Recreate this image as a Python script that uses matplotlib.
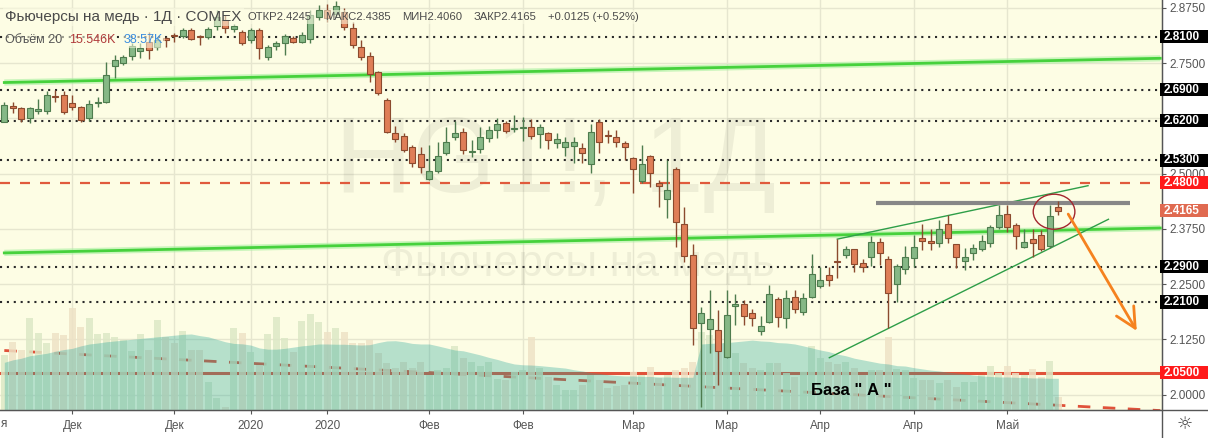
import matplotlib
matplotlib.use('Agg')
import matplotlib.pyplot as plt
from matplotlib.patches import Rectangle, Ellipse, FancyArrowPatch
from matplotlib.transforms import blended_transform_factory

# ---------------- data ----------------
opens = [2.618, 2.653, 2.648, 2.625, 2.643, 2.643, 2.674, 2.678, 2.661, 2.650,
         2.625, 2.661, 2.662, 2.744, 2.751, 2.766, 2.778, 2.799, 2.786, 2.807,
         2.812, 2.812, 2.825, 2.810, 2.809, 2.834, 2.848, 2.827, 2.821, 2.802,
         2.825, 2.763, 2.789, 2.795, 2.806, 2.799, 2.804, 2.855, 2.870, 2.861,
         2.866, 2.829, 2.787, 2.766, 2.729, 2.667, 2.591, 2.586, 2.561, 2.544,
         2.489, 2.505, 2.546, 2.582, 2.594, 2.549, 2.555, 2.580, 2.600, 2.614,
         2.601, 2.603, 2.605, 2.589, 2.591, 2.569, 2.561, 2.563, 2.558, 2.521,
         2.618, 2.588, 2.582, 2.569, 2.535, 2.484, 2.540, 2.478, 2.442, 2.510,
         2.386, 2.315, 2.162, 2.148, 2.146, 2.086, 2.200, 2.205, 2.184, 2.145,
         2.165, 2.216, 2.173, 2.220, 2.188, 2.220, 2.247, 2.270, 2.301, 2.315,
         2.329, 2.297, 2.311, 2.346, 2.306, 2.250, 2.284, 2.309, 2.354, 2.348,
         2.343, 2.386, 2.341, 2.303, 2.320, 2.330, 2.343, 2.379, 2.408, 2.384,
         2.335, 2.352, 2.361, 2.337, 2.4245]
highs = [2.663, 2.663, 2.650, 2.650, 2.668, 2.686, 2.689, 2.686, 2.678, 2.653,
         2.667, 2.673, 2.753, 2.769, 2.769, 2.796, 2.796, 2.821, 2.807, 2.810,
         2.818, 2.830, 2.830, 2.814, 2.832, 2.870, 2.859, 2.839, 2.825, 2.830,
         2.829, 2.791, 2.800, 2.816, 2.812, 2.821, 2.870, 2.882, 2.884, 2.891,
         2.875, 2.843, 2.802, 2.775, 2.733, 2.672, 2.608, 2.591, 2.565, 2.561,
         2.565, 2.572, 2.606, 2.620, 2.603, 2.576, 2.606, 2.608, 2.625, 2.620,
         2.633, 2.629, 2.623, 2.612, 2.595, 2.591, 2.584, 2.584, 2.569, 2.612,
         2.623, 2.599, 2.599, 2.575, 2.538, 2.565, 2.542, 2.486, 2.531, 2.516,
         2.425, 2.340, 2.199, 2.237, 2.192, 2.238, 2.227, 2.214, 2.193, 2.177,
         2.248, 2.222, 2.238, 2.237, 2.229, 2.318, 2.290, 2.290, 2.352, 2.336,
         2.330, 2.306, 2.359, 2.354, 2.314, 2.296, 2.336, 2.361, 2.386, 2.374,
         2.395, 2.407, 2.341, 2.331, 2.341, 2.361, 2.384, 2.429, 2.429, 2.388,
         2.374, 2.374, 2.373, 2.429, 2.4385]
lows = [2.616, 2.638, 2.618, 2.614, 2.635, 2.635, 2.663, 2.634, 2.644, 2.617,
        2.620, 2.652, 2.660, 2.717, 2.746, 2.757, 2.762, 2.759, 2.780, 2.787,
        2.799, 2.807, 2.802, 2.791, 2.805, 2.825, 2.818, 2.821, 2.791, 2.796,
        2.759, 2.757, 2.780, 2.769, 2.796, 2.796, 2.796, 2.848, 2.843, 2.855,
        2.825, 2.784, 2.757, 2.708, 2.678, 2.591, 2.572, 2.550, 2.516, 2.502,
        2.486, 2.501, 2.542, 2.576, 2.545, 2.538, 2.546, 2.572, 2.580, 2.591,
        2.595, 2.575, 2.578, 2.558, 2.555, 2.558, 2.540, 2.524, 2.524, 2.501,
        2.546, 2.569, 2.560, 2.531, 2.456, 2.478, 2.471, 2.425, 2.400, 2.335,
        2.301, 2.112, 1.973, 2.094, 2.022, 2.084, 2.158, 2.158, 2.155, 2.135,
        2.163, 2.154, 2.150, 2.184, 2.180, 2.218, 2.241, 2.246, 2.263, 2.309,
        2.278, 2.278, 2.291, 2.293, 2.150, 2.210, 2.273, 2.290, 2.327, 2.327,
        2.334, 2.344, 2.286, 2.282, 2.305, 2.324, 2.334, 2.374, 2.367, 2.329,
        2.331, 2.312, 2.324, 2.331, 2.406]
closes = [2.655, 2.648, 2.623, 2.648, 2.646, 2.678, 2.673, 2.640, 2.650, 2.621,
          2.658, 2.663, 2.723, 2.757, 2.763, 2.789, 2.784, 2.780, 2.802, 2.803,
          2.811, 2.825, 2.805, 2.809, 2.827, 2.855, 2.829, 2.834, 2.795, 2.825,
          2.784, 2.787, 2.795, 2.812, 2.799, 2.814, 2.859, 2.870, 2.852, 2.879,
          2.832, 2.791, 2.763, 2.725, 2.682, 2.595, 2.578, 2.554, 2.524, 2.516,
          2.506, 2.541, 2.572, 2.591, 2.554, 2.550, 2.582, 2.599, 2.612, 2.597,
          2.603, 2.605, 2.586, 2.606, 2.576, 2.578, 2.571, 2.571, 2.546, 2.594,
          2.571, 2.585, 2.571, 2.560, 2.510, 2.521, 2.501, 2.472, 2.463, 2.391,
          2.314, 2.150, 2.184, 2.171, 2.100, 2.180, 2.205, 2.177, 2.173, 2.155,
          2.227, 2.175, 2.218, 2.193, 2.218, 2.272, 2.260, 2.260, 2.300, 2.329,
          2.295, 2.290, 2.345, 2.320, 2.229, 2.291, 2.311, 2.335, 2.348, 2.344,
          2.374, 2.354, 2.311, 2.311, 2.331, 2.348, 2.379, 2.407, 2.379, 2.359,
          2.346, 2.344, 2.329, 2.404, 2.4165]
# volume, thousands of contracts
volumes = [67, 83, 73, 112, 94, 82, 94, 91, 124, 101,
           112, 92, 94, 89, 85, 72, 92, 73, 109, 89,
           82, 96, 73, 73, 34, 15, 4, 100, 94, 71,
           55, 92, 113, 88, 71, 108, 117, 107, 95, 100,
           95, 82, 82, 85, 69, 57, 51, 58, 51, 58,
           43, 49, 51, 78, 63, 58, 54, 58, 38, 36,
           46, 49, 89, 51, 40, 30, 24, 24, 30, 43,
           36, 27, 29, 30, 46, 43, 52, 39, 43, 49,
           51, 58, 95, 91, 82, 82, 69, 57, 51, 49,
           57, 57, 45, 40, 46, 78, 63, 58, 56, 58,
           51, 43, 49, 49, 89, 50, 49, 39, 36, 36,
           33, 36, 28, 34, 34, 43, 54, 45, 54, 45,
           43, 50, 40, 60, 15.546]
volume_ma = [58, 61, 63, 66, 67.5, 69, 71.5, 73.5, 75, 78,
             80.3, 81.5, 83, 84, 85, 86, 87, 88, 89, 90,
             91, 92, 92.5, 90.5, 89, 86, 83, 81, 80.5, 79,
             75.5, 74, 74, 75, 76.5, 78, 79, 80.3, 80.3, 80,
             80, 79.5, 79, 79.5, 82, 84, 84.3, 83, 81, 80.3,
             80.3, 78, 75.5, 73, 72, 69.5, 67, 64, 61.5, 58.5,
             56, 55, 54.7, 54, 53, 52, 51, 49, 47.5, 45.5,
             44.5, 43, 42, 41.4, 41.4, 40.8, 40.8, 40.2, 40.2, 39.8,
             39.8, 39.8, 80.3, 81, 81.5, 82, 83, 84, 85, 84,
             83.5, 82, 81.5, 80.3, 78, 75.5, 73, 71, 68, 66,
             63, 61, 59, 57, 56, 54, 53.5, 51.5, 50, 48.5,
             47.5, 46, 45, 44, 42.5, 41.4, 40.8, 40.2, 40.2, 39.8,
             39.5, 39, 39, 38.6, 38.57]

date_tick_pos = [8, 20, 29, 38, 50, 61, 74, 85, 96, 107, 118]
date_tick_labels = ['Дек', 'Дек', '2020', '2020', 'Фев', 'Фев', 'Мар', 'Мар', 'Апр', 'Апр', 'Май']
grid_levels = [2.0, 2.125, 2.25, 2.375, 2.5, 2.625, 2.75, 2.875]
price_ticks = [2.0, 2.125, 2.25, 2.375, 2.5, 2.75, 2.875]

dotted_levels = [2.81, 2.69, 2.62, 2.53, 2.29, 2.21]
red_dash_level = 2.48
red_solid_level = 2.05
last_price = 2.4165

# drawings (index, price)
green_line_upper = [(0, 2.7063), (136, 2.7611)]
green_line_lower = [(0, 2.3208), (136, 2.3772)]
wedge_upper = [(98, 2.352), (127.5, 2.4729)]
wedge_lower = [(97.06, 2.0837), (129.9, 2.3969)]
gray_level = [(102.6, 2.433), (132.4, 2.433)]
volume_trend = [(0, 2.1000), (136, 1.9641)]
circle_center = (123.5, 2.414)
arrow_pts = [(125.0, 2.414), (133.4, 2.139)]
base_label_pos = (99.7, 2.0084)

header_items = ['ОТКР2.4245', 'МАКС2.4385', 'МИН2.4060', 'ЗАКР2.4165', '+0.0125 (+0.52%)']

# ---------------- styling ----------------
BG = '#fdfde4'
UP_FILL, UP_EDGE = '#86b886', '#4e7c4e'
DN_FILL, DN_EDGE = '#df7e57', '#8b4a2e'
FONT = 'Liberation Sans'
plt.rcParams['font.family'] = [FONT, 'DejaVu Sans']

W, H = 1208, 438
PLOT_W, PLOT_H = 1162, 410
fig = plt.figure(figsize=(W / 100, H / 100), dpi=100, facecolor='white')
ax = fig.add_axes([0, (H - PLOT_H) / H, PLOT_W / W, PLOT_H / H])
ax.set_facecolor(BG)
ax.set_xlim(-0.506, 136.2)
ax.set_ylim(1.9654, 2.893)

n = len(opens)
idx = list(range(n))

# grid
for t in date_tick_pos:
    ax.axvline(t, color='#e6e6cf', lw=1, zorder=0)
for p in grid_levels:
    ax.axhline(p, color='#e6e6cf', lw=1, zorder=0)

# watermark
ax.text(0.478, 0.60, 'HG1!, 1Д', transform=ax.transAxes, fontsize=77, color='black', alpha=0.06,
        ha='center', va='center', zorder=0.5)
ax.text(0.497, 0.355, 'Фьючерсы на медь', transform=ax.transAxes, fontsize=32, color='black',
        alpha=0.06, ha='center', va='center', zorder=0.5)

# red lines under the volume overlay
ax.axhline(red_solid_level, color='#e0523a', lw=2.2, zorder=1)
ax.plot([p[0] for p in volume_trend], [p[1] for p in volume_trend], color='#e0523a', lw=2,
        ls=(0, (4.5, 4.5)), zorder=1)

# volume pane (twin axis)
vax = ax.twinx()
vax.set_ylim(0, PLOT_H / 0.822)
vax.set_xlim(ax.get_xlim())
vax.axis('off')
vcol = ['#dce8c6' if c >= o else '#eee2c6' for o, c in zip(opens, closes)]
vax.bar(idx, volumes, width=0.82, color=vcol, alpha=0.85, zorder=1)
vax.fill_between(idx, 0, volume_ma, color='#26a69a', alpha=0.33, lw=0, zorder=2)
vax.set_zorder(ax.get_zorder() + 1)
vax.patch.set_visible(False)

# overlay axis for drawings and candles
top = fig.add_axes(ax.get_position(), sharex=ax, sharey=ax)
top.patch.set_visible(False)
top.axis('off')
top.set_zorder(vax.get_zorder() + 1)

for lv in dotted_levels:
    top.axhline(lv, color='#2a2a2a', lw=1.5, ls=(0, (1, 2.3)), zorder=2)
top.axhline(red_dash_level, color='#e05a3c', lw=1.6, ls=(0, (4.5, 4.5)), zorder=2)

for seg in (green_line_upper, green_line_lower):
    xs, ys = [p[0] for p in seg], [p[1] for p in seg]
    top.plot(xs, ys, color='#a8f0a0', lw=4.5, alpha=0.6, zorder=2, solid_capstyle='butt')
    top.plot(xs, ys, color='#46d13c', lw=2.0, zorder=2.1)
for seg in (wedge_upper, wedge_lower):
    top.plot([p[0] for p in seg], [p[1] for p in seg], color='#2e9e48', lw=1, zorder=2.2)
top.plot([p[0] for p in gray_level], [p[1] for p in gray_level], color='#878787', lw=3,
         solid_capstyle='butt', zorder=2.2)

# candles
for i, (o, h_, l, c) in enumerate(zip(opens, highs, lows, closes)):
    up = c >= o
    fill, edge = (UP_FILL, UP_EDGE) if up else (DN_FILL, DN_EDGE)
    top.vlines(i, l, h_, color=edge, lw=1, zorder=3)
    bottom = min(o, c)
    height = max(abs(c - o), 0.0018)
    top.add_patch(Rectangle((i - 0.35, bottom), 0.7, height, fc=fill, ec=edge, lw=0.8, zorder=4))

top.add_patch(Ellipse(circle_center, 4.9, 0.0792, fill=False, ec='#a3262e', lw=1, zorder=5))
top.add_patch(FancyArrowPatch(arrow_pts[0], arrow_pts[1], arrowstyle='->,head_length=0.9,head_width=0.45',
                              mutation_scale=16, color='#f5821f', lw=2, zorder=5))
top.text(base_label_pos[0], base_label_pos[1], 'База " А "', fontsize=12, fontweight='bold',
         ha='center', va='center', color='black', zorder=6)

# ---------------- axes ----------------
for s in ['top', 'left']:
    ax.spines[s].set_visible(False)
ax.spines['right'].set_color('#555555')
ax.spines['bottom'].set_color('#555555')
ax.yaxis.tick_right()
ax.set_yticks(price_ticks)
ax.set_yticklabels([f'{p:.4f}' for p in price_ticks])
ax.tick_params(axis='y', length=3, pad=2, colors='#555555', labelsize=8.5, labelcolor='#555555')
ax.set_xticks(date_tick_pos)
ax.set_xticklabels(date_tick_labels)
ax.tick_params(axis='x', length=3, pad=4, colors='#555555', labelsize=8.5, labelcolor='#555555')

trans = blended_transform_factory(ax.transAxes, ax.transData)
box_h = 13.5 / 442
box_w = (W - PLOT_W + 2) / PLOT_W
label_boxes = [(lv, 'black') for lv in dotted_levels] + [
    (red_dash_level, '#ff1a1a'), (red_solid_level, '#ff1a1a'), (last_price, '#e06a50')]
for lv, fc in label_boxes:
    top.add_patch(Rectangle((1 - 2 / PLOT_W, lv - box_h / 2), box_w, box_h, transform=trans,
                            fc=fc, ec='none', clip_on=False, zorder=10))
    top.text(1 + 20 / PLOT_W, lv, f'{lv:.4f}', transform=trans, ha='center', va='center',
             color='white', fontsize=8.5, fontweight='bold', clip_on=False, zorder=11)

# frame lines continuing into the axis areas
fig.add_artist(plt.Line2D([PLOT_W / W, PLOT_W / W], [0, 1], color='#555555', lw=1))
fig.add_artist(plt.Line2D([0, 1], [(H - PLOT_H) / H] * 2, color='#555555', lw=1))
fig.text((PLOT_W + 23) / W, 14 / H, '☼', ha='center', va='center', fontsize=13, color='#444444',
         family='DejaVu Sans')
fig.text(1 / W, 14 / H, 'я', ha='left', va='center', fontsize=8.5, color='#555555')

# legend / header
hdr_bbox = dict(boxstyle='square,pad=0.15', fc=BG, ec='none', alpha=0.55)
fig.text(5 / W, 1 - 17 / H, 'Фьючерсы на медь · 1Д · COMEX', ha='left', va='center', fontsize=11,
         color='#4a4a4a', bbox=hdr_bbox)
for xp, s in zip([248, 325, 402, 474, 548], header_items):
    fig.text(xp / W, 1 - 17 / H, s, ha='left', va='center', fontsize=8.1, color='#4a4a4a', bbox=hdr_bbox)
y2 = 1 - 40 / H
fig.text(5 / W, y2, 'Объём 20', ha='left', va='center', fontsize=9, color='#555555', bbox=hdr_bbox)
fig.text(69 / W, y2, '15.546K', ha='left', va='center', fontsize=9, color='#b03a3a', bbox=hdr_bbox)
fig.text(124 / W, y2, '38.57K', ha='left', va='center', fontsize=9, color='#3b8ee0', bbox=hdr_bbox)

fig.savefig('out.png', dpi=100, facecolor='white')
